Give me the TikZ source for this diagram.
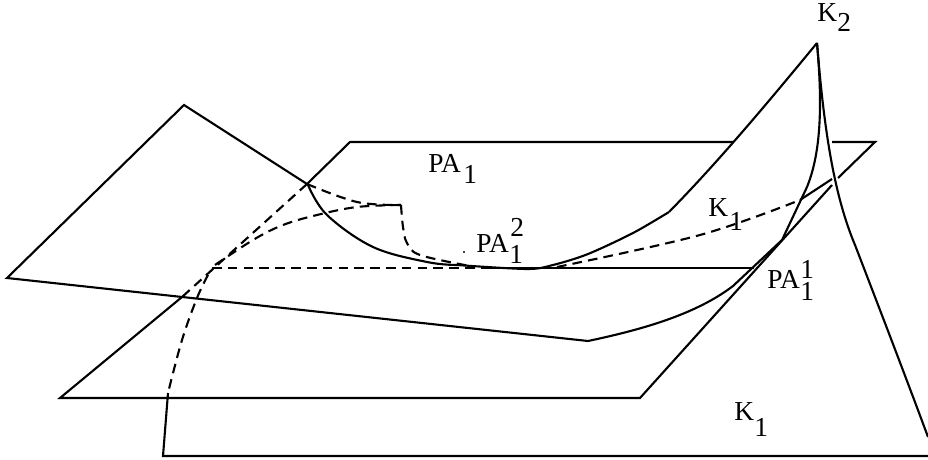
\documentclass[tikz,border=0pt]{standalone}
\usepackage{fontspec}
\setmainfont{Liberation Serif}
\tikzset{
  edge/.style={line width=1.2pt,line join=miter},
  hidden/.style={line width=1.2pt,dash pattern=on 5.5pt off 3.5pt},
  lab/.style={anchor=base west,inner sep=0pt,font=\fontsize{15.6}{18}\selectfont}
}
\begin{document}
\begin{tikzpicture}[x=0.02cm,y=-0.02cm]
    \useasboundingbox (0,0) rectangle (928,459);

    % 绘制倾斜平面
    \draw[edge] (307,184) -- (184,105) -- (7,278) -- (588,341);
    \draw[edge] (588,341) .. controls (640,330) and (695,315) .. (733,286) -- (782,240);

    % 绘制水平平面
    \draw[edge] (307,184) -- (350,142) -- (733,142);
    \draw[edge] (832,142) -- (875,142) -- (838,178);
    \draw[edge] (832,185) -- (640,398) -- (60,398) -- (182,297);
    \draw[edge] (487,268) -- (754,268);

    % 绘制下方平面
    \draw[edge] (168,393) -- (163,456) -- (928,456);

    % 绘制 K2 出发的曲线
    \draw[edge] plot[smooth,tension=0.6] coordinates {(457,265) (427,262) (373,247) (327,215) (308,185)};
    \draw[edge] plot[smooth,tension=0.5] coordinates {(457,265) (527,269) (553,265) (588,254) (633,233) (669,212)};
    \draw[edge] (669,212) .. controls (720,160) and (770,100) .. (817,43);
    \draw[edge] (817,43) .. controls (822,100) and (822,150) .. (807,187);
    \draw[edge] (807,187) -- (782,240);
    \draw[edge] (817,43) .. controls (824,130) and (834,195) .. (855,245) .. controls (880,310) and (905,375) .. (928,437);
    \draw[edge] (800,200) -- (832,179);

    % 绘制虚线
    \draw[hidden] (307,184) -- (182,297);
    \draw[hidden] (212,268) -- (487,268);
    \draw[hidden] plot[smooth,tension=0.6] coordinates {(307,184) (357,202) (401,205)};
    \draw[hidden] plot[smooth,tension=0.6] coordinates {(401,205) (357,207) (317,215) (283,225) (253,240) (212,267)};
    \draw[hidden] plot[smooth,tension=0.6] coordinates {(401,205) (403,227) (407,243) (420,255) (470,266)};
    \draw[hidden] plot[smooth,tension=0.6] coordinates {(208,275) (197,298) (182,340) (168,393)};
    \draw[hidden] plot[smooth,tension=0.6] coordinates {(557,267) (700,235) (800,200)};

    % 标签
    \node[lab] (pa) at (428,173) {PA};
    \node[lab] (paidx) at (463,183) {1};
    \node[lab] (pam) at (476,252) {PA};
    \node[lab] (pamup) at (510,236) {2};
    \node[lab] (pamlow) at (509,263) {1};
    \node[lab] (par) at (767,288) {PA};
    \node[lab] (parup) at (800,278) {1};
    \node[lab] (parlow) at (800,300) {1};
    \node[lab] (ktop) at (708,216) {K};
    \node[lab] (ktopidx) at (729,230) {1};
    \node[lab] (kpeak) at (817,22) {K};
    \node[lab] (kpeakidx) at (837,32) {2};
    \node[lab] (klow) at (734,420) {K};
    \node[lab] (klowidx) at (754,436) {1};
    \fill (464,252) circle (0.7pt);

\end{tikzpicture}
\end{document}
